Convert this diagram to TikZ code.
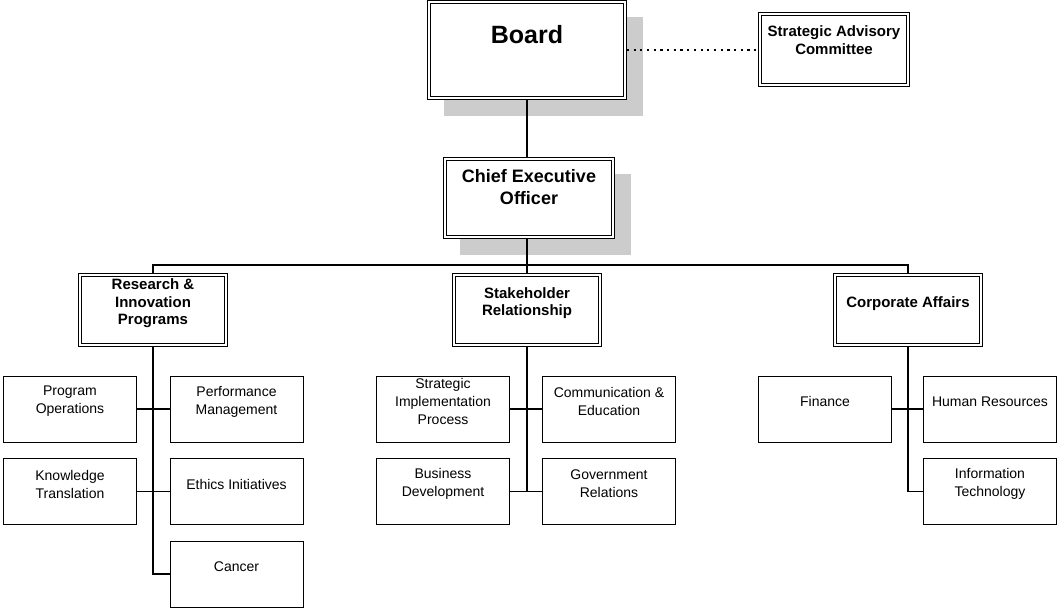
\documentclass[tikz,border=0pt]{standalone}
\usepackage{fontspec}
\setmainfont{Liberation Sans}
\usetikzlibrary{shadows}

\tikzset{
  caja/.style={draw, line width=0.8pt, minimum width=133pt, minimum height=66pt, inner sep=0pt},
  doble/.style={draw, fill=white, double, line width=0.9pt, double distance=1.8pt, inner sep=0pt, outer sep=1.8pt},
  depto/.style={doble, minimum width=146pt, minimum height=70pt},
  sombra/.style={general shadow={fill=black!20, draw=black!20, line width=3.6pt, shadow xshift=16.5pt, shadow yshift=-16.5pt}},
  texto/.style={anchor=center, align=center, yshift=-26pt, font=\fontsize{14}{18}\selectfont},
  textod/.style={anchor=center, align=center, yshift=-30pt, font=\bfseries\fontsize{15}{17.5}\selectfont},
  linea/.style={line width=1.2pt},
  punteado/.style={line width=2.2pt, dash pattern=on 2.2pt off 4.5pt}
}

\begin{document}
\begin{tikzpicture}[x=1pt, y=-1pt]
  \useasboundingbox (0,0) rectangle (1057,609);

  % Direccion
  \node[doble, sombra, minimum width=196pt, minimum height=96pt,
        label={[anchor=center, yshift=-34pt, font=\bfseries\fontsize{25}{30}\selectfont]north:Board}] (board) at (527,50) {};
  \node[doble, minimum width=148pt, minimum height=71pt,
        label={[textod, yshift=2pt]north:{Strategic Advisory\\Committee}}] (sac) at (834,49.5) {};
  \node[doble, sombra, minimum width=168pt, minimum height=78pt,
        label={[anchor=center, yshift=-30pt, align=center, font=\bfseries\fontsize{18}{22}\selectfont]north:{Chief Executive\\Officer}}] (ceo) at (529,198) {};

  % Departamentos
  \node[depto, label={[textod]north:{Research \&\\Innovation\\Programs}}] (res) at (153,310) {};
  \node[depto, label={[textod]north:{Stakeholder\\Relationship}}] (stake) at (527,310) {};
  \node[depto, label={[textod]north:{Corporate Affairs}}] (corp) at (908,310) {};
  \coordinate (bus) at (527,265);

  % Research & Innovation Programs
  \node[caja, label={[texto]north:{Program\\Operations}}] (po) at (70,409) {};
  \node[caja, label={[texto]north:{Performance\\Management}}] (pm) at (236.5,409) {};
  \node[caja, label={[texto]north:{Knowledge\\Translation}}] (kt) at (70,491.5) {};
  \node[caja, label={[texto]north:{Ethics Initiatives}}] (ei) at (236.5,491.5) {};
  \node[caja, label={[texto]north:{Cancer}}] (can) at (236.5,574) {};

  % Stakeholder Relationship
  \node[caja, label={[texto]north:{Strategic\\Implementation\\Process}}] (sip) at (443,409) {};
  \node[caja, label={[texto]north:{Communication \&\\Education}}] (ce) at (609,409) {};
  \node[caja, label={[texto]north:{Business\\Development}}] (bd) at (443,491.5) {};
  \node[caja, label={[texto]north:{Government\\Relations}}] (gr) at (609,491.5) {};

  % Corporate Affairs
  \node[caja, label={[texto]north:{Finance}}] (fin) at (825,409) {};
  \node[caja, label={[texto]north:{Human Resources}}] (hr) at (990,409) {};
  \node[caja, label={[texto]north:{Information\\Technology}}] (it) at (990,491.5) {};

  % Conexiones
  \draw[punteado] (board.east) -- (board.east -| sac.west);
  \draw[linea] (board.south) -- (board.south |- ceo.north);
  \draw[linea] (ceo.south -| bus) -- (bus);
  \draw[linea] (res.north) |- (bus) -| (corp.north);
  \draw[linea] (bus) -- (stake.north);

  \draw[linea] (res.south) |- (can.west);
  \draw[linea] (po.east) -- (pm.west);
  \draw[linea] (kt.east) -- (ei.west);

  \draw[linea] (stake.south) -- (stake.south |- bd.east);
  \draw[linea] (sip.east) -- (ce.west);
  \draw[linea] (bd.east) -- (gr.west);

  \draw[linea] (corp.south) |- (it.west);
  \draw[linea] (fin.east) -- (hr.west);
\end{tikzpicture}
\end{document}
